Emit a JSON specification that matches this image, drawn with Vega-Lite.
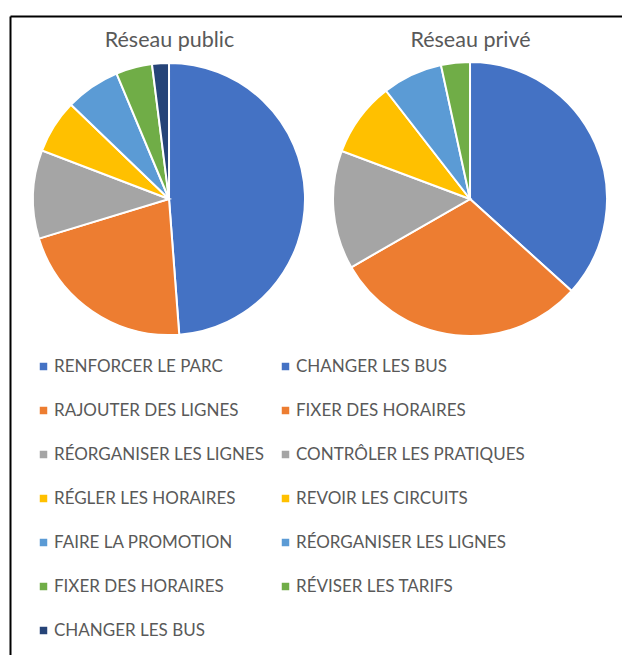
{
  "$schema": "https://vega.github.io/schema/vega-lite/v6.json",
  "width": 612,
  "height": 639,
  "autosize": {"type": "none"},
  "padding": {"left": 10, "top": 16, "right": 0, "bottom": 0},
  "background": "white",
  "config": {
    "view": {"stroke": null},
    "font": "Lato",
    "axisLeft": {"domain": true, "domainColor": "black", "domainWidth": 2},
    "axisRight": {"domain": false, "labels": false, "ticks": false, "grid": false},
    "axisBottom": {"domain": false, "labels": false, "ticks": false, "grid": false}
  },
  "data": {
    "values": [
      {"reseau": "Réseau public", "groupe": "Réseaux", "action": "RENFORCER LE PARC", "ordre": 1, "part": 48.8},
      {"reseau": "Réseau public", "groupe": "Réseaux", "action": "RAJOUTER DES LIGNES", "ordre": 2, "part": 21.5},
      {"reseau": "Réseau public", "groupe": "Réseaux", "action": "RÉORGANISER LES LIGNES", "ordre": 3, "part": 10.5},
      {"reseau": "Réseau public", "groupe": "Réseaux", "action": "RÉGLER LES HORAIRES", "ordre": 4, "part": 6.4},
      {"reseau": "Réseau public", "groupe": "Réseaux", "action": "FAIRE LA PROMOTION", "ordre": 5, "part": 6.5},
      {"reseau": "Réseau public", "groupe": "Réseaux", "action": "FIXER DES HORAIRES", "ordre": 6, "part": 4.3},
      {"reseau": "Réseau public", "groupe": "Réseaux", "action": "CHANGER LES BUS", "ordre": 7, "part": 2.0},
      {"reseau": "Réseau privé", "groupe": "Réseaux", "action": "CHANGER LES BUS", "ordre": 1, "part": 36.7},
      {"reseau": "Réseau privé", "groupe": "Réseaux", "action": "FIXER DES HORAIRES", "ordre": 2, "part": 30.0},
      {"reseau": "Réseau privé", "groupe": "Réseaux", "action": "CONTRÔLER LES PRATIQUES", "ordre": 3, "part": 14.0},
      {"reseau": "Réseau privé", "groupe": "Réseaux", "action": "REVOIR LES CIRCUITS", "ordre": 4, "part": 8.8},
      {"reseau": "Réseau privé", "groupe": "Réseaux", "action": "RÉORGANISER LES LIGNES", "ordre": 5, "part": 7.1},
      {"reseau": "Réseau privé", "groupe": "Réseaux", "action": "RÉVISER LES TARIFS", "ordre": 6, "part": 3.4}
    ]
  },
  "encoding": {
    "x": {
      "field": "reseau",
      "type": "nominal",
      "scale": {"type": "point", "domain": ["Réseau public", "Réseau privé"], "padding": 0.5166, "align": 0.5113},
      "axis": {
        "orient": "top",
        "title": null,
        "grid": false,
        "ticks": false,
        "tickSize": 0,
        "domain": true,
        "domainColor": "black",
        "domainWidth": 2,
        "labelFont": "Lato",
        "labelFontSize": 21.5,
        "labelColor": "#595959",
        "labelBaseline": "middle",
        "labelPadding": -24,
        "labelAngle": 0
      }
    },
    "y": {
      "field": "groupe",
      "type": "nominal",
      "scale": {"type": "point", "padding": 0, "align": 0.2864},
      "axis": {
        "orient": "left",
        "title": null,
        "grid": false,
        "ticks": false,
        "tickSize": 0,
        "labels": false
      }
    }
  },
  "layer": [
    {
      "transform": [{"filter": "datum.reseau === 'Réseau public'"}],
      "mark": {"type": "arc", "outerRadius": 136, "stroke": "white", "strokeWidth": 2},
      "encoding": {
        "theta": {"field": "part", "type": "quantitative", "stack": true},
        "order": {"field": "ordre", "type": "quantitative"},
        "color": {
          "field": "action",
          "type": "nominal",
          "scale": {
            "domain": ["RENFORCER LE PARC", "RAJOUTER DES LIGNES", "RÉORGANISER LES LIGNES", "RÉGLER LES HORAIRES", "FAIRE LA PROMOTION", "FIXER DES HORAIRES", "CHANGER LES BUS"],
            "range": ["#4472C4", "#ED7D31", "#A5A5A5", "#FFC000", "#5B9BD5", "#70AD47", "#264478"]
          },
          "legend": {
            "orient": "none",
            "legendX": 25,
            "legendY": 342,
            "title": null,
            "padding": 0,
            "symbolType": "square",
            "symbolSize": 56,
            "symbolStrokeWidth": 0,
            "labelFont": "Lato",
            "labelFontSize": 17,
            "labelColor": "#595959",
            "labelOffset": 2,
            "labelLimit": 400,
            "rowPadding": 26
          }
        }
      }
    },
    {
      "transform": [{"filter": "datum.reseau === 'Réseau privé'"}],
      "mark": {"type": "arc", "outerRadius": 137, "stroke": "white", "strokeWidth": 2},
      "encoding": {
        "theta": {"field": "part", "type": "quantitative", "stack": true},
        "order": {"field": "ordre", "type": "quantitative"},
        "color": {
          "field": "action",
          "type": "nominal",
          "scale": {
            "domain": ["CHANGER LES BUS", "FIXER DES HORAIRES", "CONTRÔLER LES PRATIQUES", "REVOIR LES CIRCUITS", "RÉORGANISER LES LIGNES", "RÉVISER LES TARIFS"],
            "range": ["#4472C4", "#ED7D31", "#A5A5A5", "#FFC000", "#5B9BD5", "#70AD47"]
          },
          "legend": {
            "orient": "none",
            "legendX": 267,
            "legendY": 342,
            "title": null,
            "padding": 0,
            "symbolType": "square",
            "symbolSize": 56,
            "symbolStrokeWidth": 0,
            "labelFont": "Lato",
            "labelFontSize": 17,
            "labelColor": "#595959",
            "labelOffset": 2,
            "labelLimit": 400,
            "rowPadding": 26
          }
        }
      }
    }
  ],
  "resolve": {"scale": {"color": "independent", "theta": "independent"}, "legend": {"color": "independent"}}
}
